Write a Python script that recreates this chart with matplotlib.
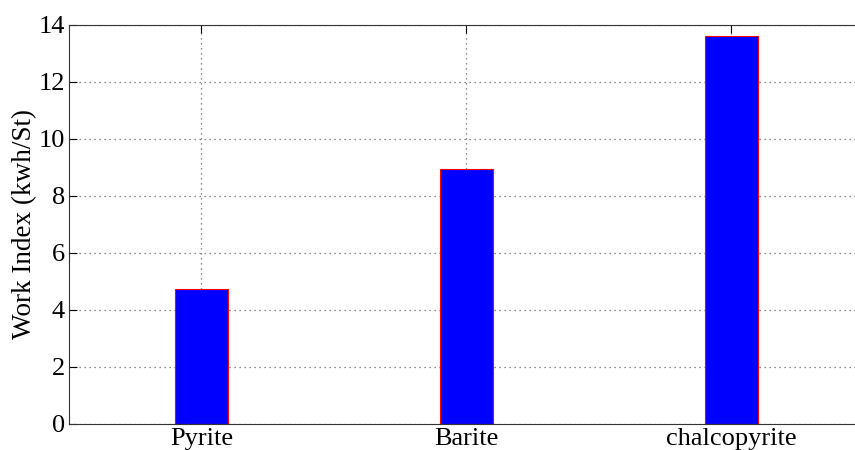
import matplotlib.pyplot as plt
import numpy as np

minerals = ["Pyrite", "Barite", "chalcopyrite"]
work_index = [4.72, 8.93, 13.58]

plt.rcParams["font.family"] = ["Liberation Serif", "DejaVu Serif"]

fig = plt.figure(figsize=(8.55, 4.5), dpi=100)
left, right, top, bottom = 69, 863.5, 24.5, 424
ax = fig.add_axes([left / 855, 1 - bottom / 450, (right - left) / 855, (bottom - top) / 450])

x = np.arange(1, len(minerals) + 1)
ax.bar(x, work_index, width=0.2, color="#0000ff", edgecolor="red", linewidth=0.8, zorder=3)

ax.set_xlim(0.5, 3.5)
ax.set_ylim(0, 14)
ax.set_xticks(x)
ax.set_xticklabels(minerals)
ax.set_yticks(np.arange(0, 15, 2))
ax.set_ylabel("Work Index (kwh/St)", fontsize=19.5, labelpad=0)
ax.yaxis.set_label_coords(-0.040, 0.5)

ax.grid(True, linestyle=(0, (1, 3)), color="#666666", linewidth=0.9, zorder=0)
ax.tick_params(direction="in", length=6, labelsize=19, top=True, right=True, pad=3)
for s in ax.spines.values():
    s.set_color("#333333")
    s.set_zorder(4)

fig.savefig("out.png", dpi=100)
